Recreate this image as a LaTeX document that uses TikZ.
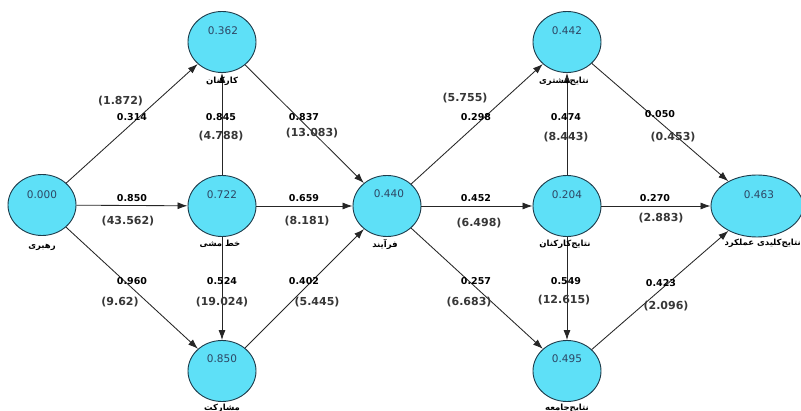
\documentclass[tikz,border=0pt]{standalone}
\usepackage{fontspec}
\setmainfont{DejaVu Sans}
\newfontfamily\arabicfont[Script=Arabic]{DejaVu Sans}
\TeXXeTstate=1
\usetikzlibrary{shapes.geometric,arrows.meta}
\definecolor{circfill}{RGB}{94,224,247}
\definecolor{circline}{RGB}{30,60,75}
\definecolor{valcol}{RGB}{45,70,100}
\definecolor{tcol}{RGB}{55,55,55}
\begin{document}
\begin{tikzpicture}[x=1pt,y=-1pt,
  lv/.style={draw=circline,fill=circfill,ellipse,line width=0.9pt,minimum width=68pt,minimum height=61pt,inner sep=0pt},
  val/.style={font=\fontsize{10.5}{12}\selectfont,text=valcol,inner sep=0pt},
  nm/.style={font=\arabicfont\bfseries\fontsize{8.5}{10}\selectfont,inner sep=0pt},
  pc/.style={font=\bfseries\fontsize{9.5}{11}\selectfont,inner sep=0pt},
  tv/.style={font=\bfseries\fontsize{11}{13}\selectfont,text=tcol,inner sep=0pt},
  conn/.style={draw=black!85,line width=0.85pt,-{Latex[length=10pt,width=7pt]}}]
\clip (0,0) rectangle (801,411);
\useasboundingbox (0,0) rectangle (801,411);
\fill[white] (0,0) rectangle (801,411);

% latent variables
\node[lv] (lead) at (42,205) {};
\node[lv] (staff) at (222,42) {};
\node[lv] (policy) at (222,206) {};
\node[lv] (part) at (222,371) {};
\node[lv] (proc) at (387,206) {};
\node[lv] (cust) at (567,42) {};
\node[lv] (emp) at (567,206) {};
\node[lv] (soc) at (567,371) {};
\node[lv,minimum width=92pt,minimum height=62pt] (key) at (757,206) {};

% connectors
\draw[conn] (lead) -- (staff);
\draw[conn] (lead) -- (policy);
\draw[conn] (lead) -- (part);
\draw[conn] (policy) -- (staff);
\draw[conn] (staff) -- (proc);
\draw[conn] (policy) -- (proc);
\draw[conn] (policy) -- (part);
\draw[conn] (part) -- (proc);
\draw[conn] (proc) -- (cust);
\draw[conn] (proc) -- (emp);
\draw[conn] (proc) -- (soc);
\draw[conn] (emp) -- (cust);
\draw[conn] (emp) -- (soc);
\draw[conn] (cust) -- (key);
\draw[conn] (emp) -- (key);
\draw[conn] (soc) -- (key);

% values in circles
\node[val] (v1) at (42,195) {0.000};
\node[val] (v2) at (223,31) {0.362};
\node[val] (v3) at (222,195) {0.722};
\node[val] (v4) at (222,359) {0.850};
\node[val] (v5) at (389,194) {0.440};
\node[val] (v6) at (567,31) {0.442};
\node[val] (v7) at (567,195) {0.204};
\node[val] (v8) at (567,359) {0.495};
\node[val] (v9) at (759,195) {0.463};

% names
\node[nm] (n1) at (42,247) {\beginR رهبری\endR};
\node[nm] (n2) at (222,81) {\beginR کارکنان\endR};
\node[nm] (n3) at (220,244) {\beginR خط مشی\endR};
\node[nm] (n4) at (222,408) {\beginR مشارکت\endR};
\node[nm] (n5) at (385,244) {\beginR فرآیند\endR};
\node[nm] (n6) at (564,81) {\beginR نتایج‌مشتری\endR};
\node[nm] (n7) at (565,244) {\beginR نتایج‌کارکنان\endR};
\node[nm] (n8) at (567,408) {\beginR نتایج‌جامعه\endR};
\node[nm,anchor=east] (n9) at (801,243) {\beginR نتایج‌کلیدی عملکرد\endR};

% path coefficients
\node[pc] (c1) at (132,117.5) {0.314};
\node[pc] (c2) at (132,198) {0.850};
\node[pc] (c3) at (132,281) {0.960};
\node[pc] (c4) at (221,117.5) {0.845};
\node[pc] (c5) at (304,117) {0.837};
\node[pc] (c6) at (304,198) {0.659};
\node[pc] (c7) at (222,281) {0.524};
\node[pc] (c8) at (304,281) {0.402};
\node[pc] (c9) at (476,117) {0.298};
\node[pc] (c10) at (476,198) {0.452};
\node[pc] (c11) at (476,281) {0.257};
\node[pc] (c12) at (566,117) {0.474};
\node[pc] (c13) at (566,281) {0.549};
\node[pc] (c14) at (660,114) {0.050};
\node[pc] (c15) at (655,198) {0.270};
\node[pc] (c16) at (661,283) {0.423};

% t values
\node[tv] (t1) at (120.5,101) {(1.872)};
\node[tv] (t2) at (128,221) {(43.562)};
\node[tv] (t3) at (120,302) {(9.62)};
\node[tv] (t4) at (221,136) {(4.788)};
\node[tv] (t5) at (312,133) {(13.083)};
\node[tv] (t6) at (307,221) {(8.181)};
\node[tv] (t7) at (222,302) {(19.024)};
\node[tv] (t8) at (317,302) {(5.445)};
\node[tv] (t9) at (465,98) {(5.755)};
\node[tv] (t10) at (479,223) {(6.498)};
\node[tv] (t11) at (469,302) {(6.683)};
\node[tv] (t12) at (566,137) {(8.443)};
\node[tv] (t13) at (564,300) {(12.615)};
\node[tv] (t14) at (673,137) {(0.453)};
\node[tv] (t15) at (661,218) {(2.883)};
\node[tv] (t16) at (666,306) {(2.096)};
\end{tikzpicture}
\end{document}
